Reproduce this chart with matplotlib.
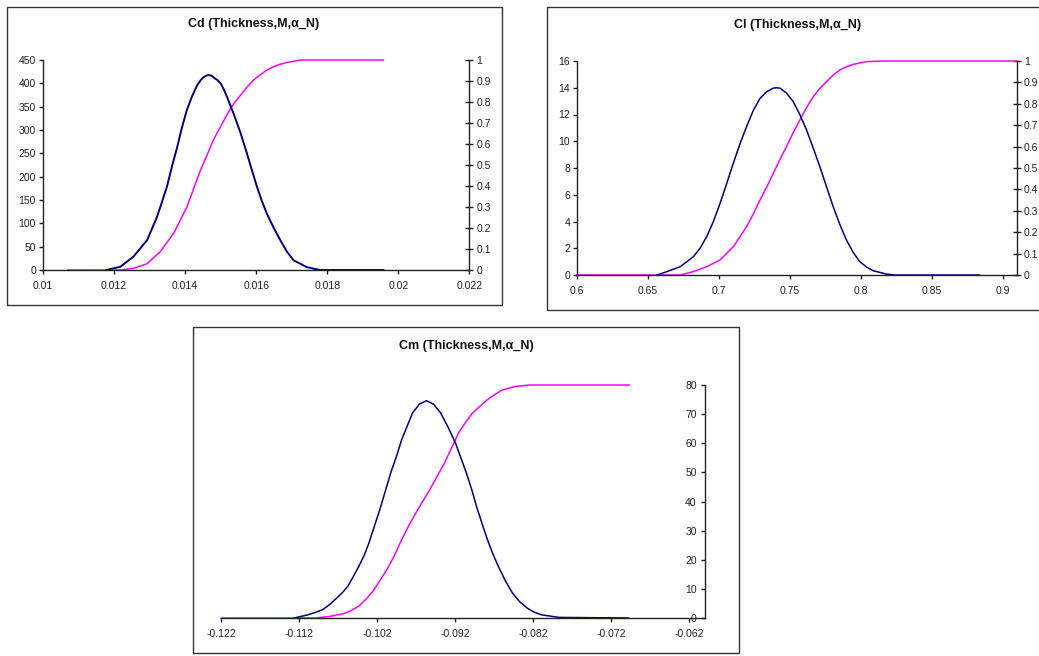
import matplotlib
matplotlib.use("Agg")
import matplotlib.pyplot as plt
from matplotlib.patches import Rectangle

plt.rcParams['font.family'] = ['Liberation Sans', 'DejaVu Sans']

W, H = 1039, 656
BLUE = "#000080"
PINK = "#FF00FF"
AXC = "#222222"

# ---------------- data ----------------
cd_title = "Cd (Thickness,M,\u03b1_N)"
cd_pdf_x = [0.01178, 0.01218, 0.01255, 0.01293, 0.01321, 0.01335, 0.01349, 0.01363,
            0.01378, 0.01391, 0.01405, 0.01420, 0.01434, 0.01442, 0.01450, 0.01458,
            0.01466, 0.01475, 0.01483, 0.01491, 0.01500, 0.01509, 0.01518, 0.01536,
            0.01555, 0.01574, 0.01588, 0.01602, 0.01616, 0.01630, 0.01649, 0.01668,
            0.01686, 0.01705, 0.01743, 0.01780, 0.01958]
cd_pdf_y = [0, 7, 29, 64, 114, 146, 179, 222, 264, 305, 343, 373, 396, 405, 412, 416,
            418, 416, 411, 407, 400, 387, 371, 336, 296, 250, 214, 179, 148, 121, 91,
            64, 40, 21, 6, 0, 0]
cd_cdf_x = [0.01070, 0.01220, 0.01255, 0.01293, 0.01330, 0.01368, 0.01405, 0.01442,
            0.01461, 0.01480, 0.01499, 0.01518, 0.01536, 0.01555, 0.01574, 0.01593,
            0.01612, 0.01630, 0.01649, 0.01668, 0.01686, 0.01705, 0.01724, 0.01958]
cd_cdf_y = [0, 0, 0.008, 0.03, 0.087, 0.175, 0.30, 0.47, 0.545, 0.62, 0.68, 0.74,
            0.79, 0.83, 0.87, 0.905, 0.93, 0.952, 0.968, 0.98, 0.988, 0.994, 1.0, 1.0]
cd_xticks = [0.010, 0.012, 0.014, 0.016, 0.018, 0.020, 0.022]
cd_xticklabels = ["0.01", "0.012", "0.014", "0.016", "0.018", "0.02", "0.022"]
cd_yticks = [0, 50, 100, 150, 200, 250, 300, 350, 400, 450]

cl_title = "Cl (Thickness,M,\u03b1_N)"
cl_pdf_x = [0.6563, 0.6633, 0.6727, 0.6820, 0.6867, 0.6914, 0.6961, 0.7008, 0.7055,
            0.7101, 0.7148, 0.7195, 0.7242, 0.7289, 0.7336, 0.7383, 0.7406, 0.7430,
            0.7476, 0.7523, 0.7570, 0.7617, 0.7664, 0.7711, 0.7758, 0.7805, 0.7851,
            0.7898, 0.7945, 0.7992, 0.8039, 0.8086, 0.8180, 0.8238, 0.8836]
cl_pdf_y = [0, 0.25, 0.62, 1.37, 2.0, 2.87, 4.0, 5.36, 6.85, 8.35, 9.8, 11.1, 12.3,
            13.2, 13.7, 13.97, 14.0, 13.97, 13.6, 12.97, 12.0, 10.85, 9.5, 8.1, 6.6,
            5.11, 3.8, 2.62, 1.7, 1.0, 0.6, 0.32, 0.07, 0, 0]
cl_cdf_x = [0.600, 0.673, 0.682, 0.6914, 0.7008, 0.7101, 0.7195, 0.7242, 0.7289,
            0.7336, 0.7383, 0.7430, 0.7476, 0.7523, 0.7570, 0.7617, 0.7664, 0.7711,
            0.7758, 0.7805, 0.7851, 0.7898, 0.7945, 0.8039, 0.8156, 0.910]
cl_cdf_y = [0, 0, 0.016, 0.039, 0.07, 0.132, 0.226, 0.285, 0.35, 0.41, 0.475, 0.54,
            0.60, 0.665, 0.724, 0.782, 0.833, 0.872, 0.903, 0.934, 0.958, 0.973,
            0.984, 0.997, 1.0, 1.0]
cl_xticks = [0.60, 0.65, 0.70, 0.75, 0.80, 0.85, 0.90]
cl_xticklabels = ["0.6", "0.65", "0.7", "0.75", "0.8", "0.85", "0.9"]
cl_yticks = [0, 2, 4, 6, 8, 10, 12, 14, 16]

cm_title = "Cm (Thickness,M,\u03b1_N)"
cm_pdf_x = [-0.1127, -0.1109, -0.1100, -0.1090, -0.1081, -0.1072, -0.1065, -0.1058,
            -0.1051, -0.1044, -0.1037, -0.1031, -0.1024, -0.1017, -0.1010, -0.1003,
            -0.0995, -0.0989, -0.0984, -0.0975, -0.0966, -0.0957, -0.0948, -0.0939,
            -0.0930, -0.0920, -0.0913, -0.0906, -0.0899, -0.0893, -0.0886, -0.0879,
            -0.0872, -0.0865, -0.0856, -0.0847, -0.0838, -0.0828, -0.0819, -0.0810,
            -0.0787, -0.0698]
cm_pdf_y = [0, 1.1, 1.9, 2.9, 4.7, 6.9, 8.7, 10.9, 14.2, 17.7, 21.5, 25.7, 31.5, 37.2,
            43.5, 49.8, 56.0, 61.2, 64.5, 70.4, 73.5, 74.6, 73.4, 70.4, 65.8, 60.1,
            55.0, 49.8, 44.0, 38.3, 32.5, 26.9, 22.0, 17.7, 12.8, 8.6, 5.7, 3.4, 2.0,
            1.1, 0.2, 0]
cm_cdf_x = [-0.1220, -0.1100, -0.1081, -0.1063, -0.1054, -0.1044, -0.1035, -0.1026,
            -0.1017, -0.1008, -0.0998, -0.0989, -0.0980, -0.0971, -0.0962, -0.0953,
            -0.0944, -0.0934, -0.0925, -0.0916, -0.0907, -0.0898, -0.0888, -0.0879,
            -0.0870, -0.0861, -0.0852, -0.0843, -0.0824, -0.0697]
cm_cdf_y = [0, 0, 0.007, 0.019, 0.032, 0.05, 0.08, 0.114, 0.16, 0.207, 0.27, 0.336,
            0.395, 0.45, 0.50, 0.55, 0.605, 0.665, 0.73, 0.794, 0.84, 0.88, 0.91,
            0.937, 0.958, 0.977, 0.986, 0.994, 1.0, 1.0]
cm_xticks = [-0.122, -0.112, -0.102, -0.092, -0.082, -0.072, -0.062]
cm_xticklabels = ["-0.122", "-0.112", "-0.102", "-0.092", "-0.082", "-0.072", "-0.062"]
cm_yticks = [0, 10, 20, 30, 40, 50, 60, 70, 80]

cdf_ticks = [0, 0.1, 0.2, 0.3, 0.4, 0.5, 0.6, 0.7, 0.8, 0.9, 1.0]
cdf_ticklabels = ["0", "0.1", "0.2", "0.3", "0.4", "0.5", "0.6", "0.7", "0.8", "0.9", "1"]

# ---------------- figure ----------------
fig = plt.figure(figsize=(W / 100, H / 100), dpi=100)
fig.patch.set_facecolor("white")

TICK_FS = 7.5
TITLE_FS = 9


def rect(l, r, t, b):
    return [l / W, 1 - b / H, (r - l) / W, (b - t) / H]


def box(l, r, t, b):
    fig.add_artist(Rectangle((l / W, 1 - b / H), (r - l) / W, (b - t) / H,
                             transform=fig.transFigure, fill=False,
                             ec="#333333", lw=1.0))


def title(x, y, s):
    fig.text(x / W, 1 - y / H, s, ha="center", va="center", fontsize=TITLE_FS,
             fontweight="bold", color="#111111")


def style_main(ax):
    ax.spines["top"].set_visible(False)
    ax.spines["right"].set_visible(False)
    for s in ("left", "bottom"):
        ax.spines[s].set_color(AXC)
        ax.spines[s].set_linewidth(1.0)
    ax.tick_params(axis="both", direction="out", length=3, width=1.0,
                   colors=AXC, labelsize=TICK_FS)
    ax.tick_params(axis="y", pad=2)
    ax.tick_params(axis="x", pad=5)
    ax.patch.set_visible(False)


def style_twin(tw):
    for s in ("top", "left", "bottom"):
        tw.spines[s].set_visible(False)
    tw.spines["right"].set_color(AXC)
    tw.spines["right"].set_linewidth(1.0)
    tw.set_ylim(0, 1)
    tw.set_yticks(cdf_ticks)
    tw.set_yticklabels(cdf_ticklabels)
    tw.tick_params(axis="y", direction="inout", length=6, width=1.0,
                   colors=AXC, labelsize=TICK_FS, pad=2)


# Panel 1: Cd
box(7, 502, 7, 305)
title(254, 24, cd_title)
ax1 = fig.add_axes(rect(43, 469.3, 60, 270))
tw1 = ax1.twinx()
style_main(ax1)
style_twin(tw1)
ax1.set_zorder(tw1.get_zorder() + 1)
ax1.set_xlim(0.010, 0.022)
ax1.set_ylim(0, 450)
ax1.set_xticks(cd_xticks)
ax1.set_xticklabels(cd_xticklabels)
ax1.set_yticks(cd_yticks)
tw1.plot(cd_cdf_x, cd_cdf_y, color=PINK, lw=1.1, clip_on=False)
ax1.plot(cd_pdf_x, cd_pdf_y, color=BLUE, lw=1.4, clip_on=False)

# Panel 2: Cl
box(547, 1060, 7, 310)
title(798, 25, cl_title)
ax2 = fig.add_axes(rect(577, 1017, 61, 275))
tw2 = ax2.twinx()
style_main(ax2)
style_twin(tw2)
ax2.set_zorder(tw2.get_zorder() + 1)
ax2.set_xlim(0.60, 0.91)
ax2.set_ylim(0, 16)
ax2.set_xticks(cl_xticks)
ax2.set_xticklabels(cl_xticklabels)
ax2.set_yticks(cl_yticks)
tw2.plot(cl_cdf_x, cl_cdf_y, color=PINK, lw=1.1, clip_on=False)
ax2.plot(cl_pdf_x, cl_pdf_y, color=BLUE, lw=1.1, clip_on=False)

# Panel 3: Cm
box(193, 739, 327, 653)
title(466, 346, cm_title)
ax3 = fig.add_axes(rect(221.5, 705, 385, 618))
tw3 = ax3.twinx()
style_main(ax3)
tw3.axis("off")
tw3.set_ylim(0, 1)
ax3.set_zorder(tw3.get_zorder() + 1)
ax3.set_xlim(-0.122, -0.060)
ax3.set_ylim(0, 80)
ax3.spines["left"].set_position(("data", -0.060))
ax3.set_xticks(cm_xticks)
ax3.set_xticklabels(cm_xticklabels)
ax3.set_yticks(cm_yticks)
ax3.tick_params(axis="y", pad=3)
tw3.plot(cm_cdf_x, cm_cdf_y, color=PINK, lw=1.1, clip_on=False)
ax3.plot(cm_pdf_x, cm_pdf_y, color=BLUE, lw=1.1, clip_on=False)

fig.savefig("out.png", dpi=100, facecolor="white")
